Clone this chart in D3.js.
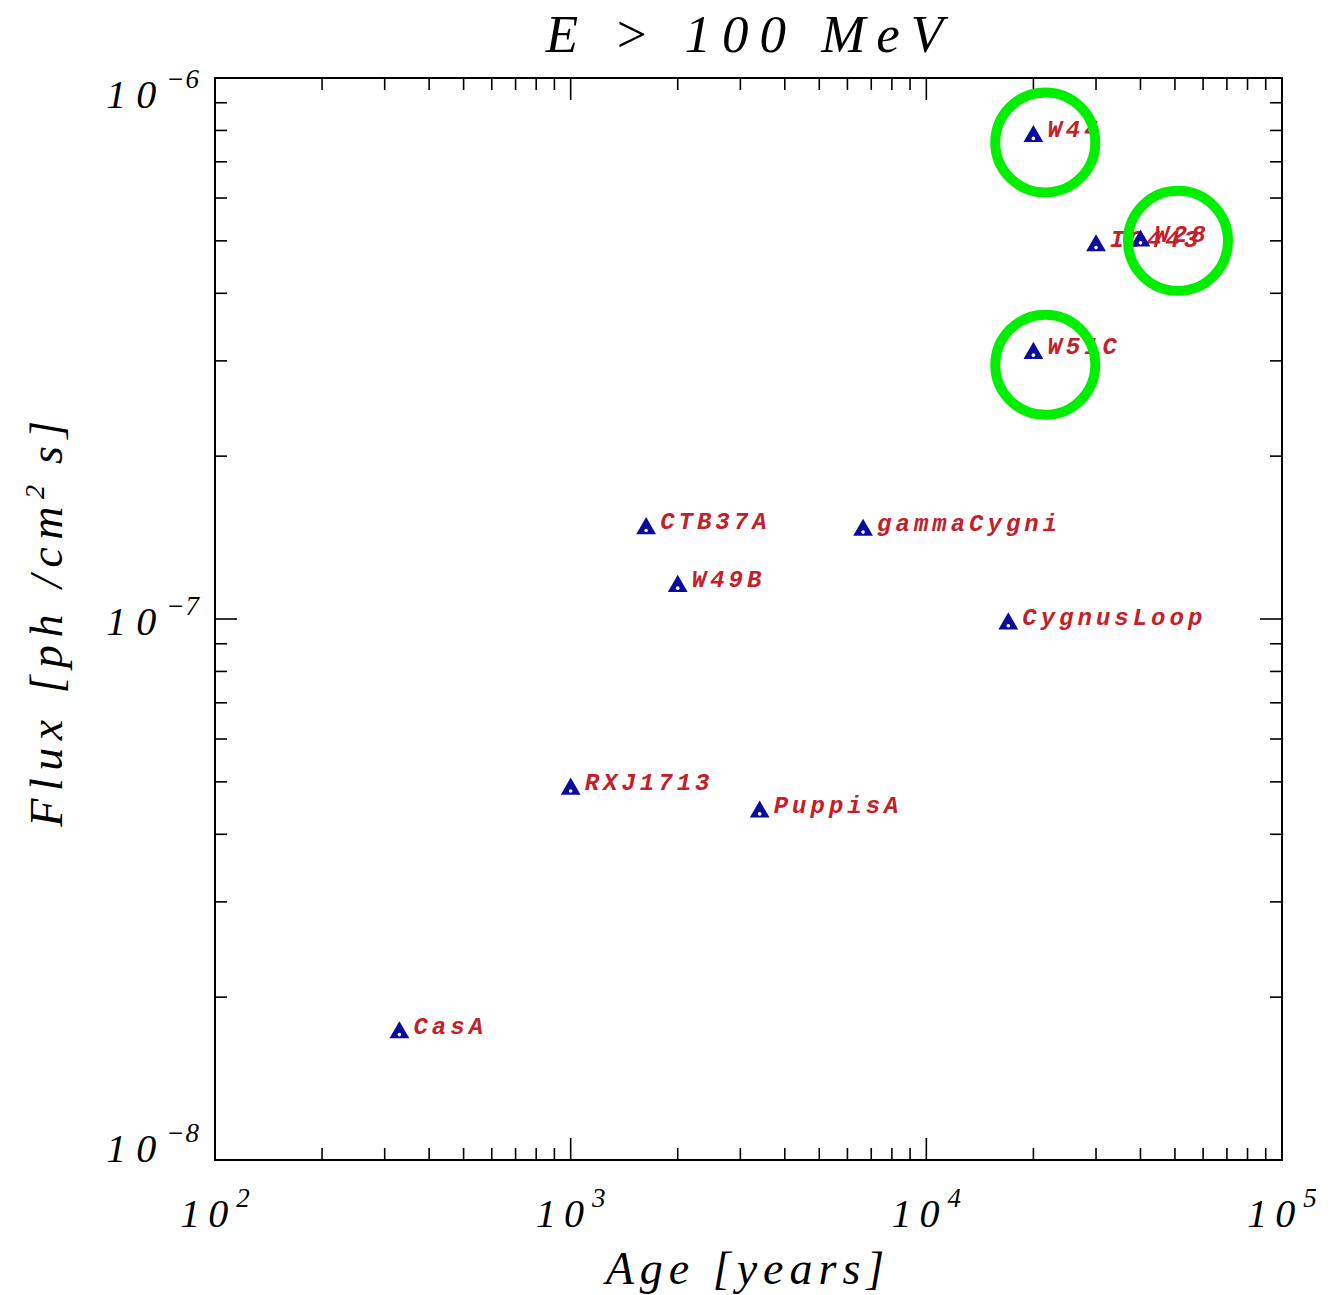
<!DOCTYPE html>
<html>
<head>
<meta charset="utf-8">
<script src="https://cdn.jsdelivr.net/npm/d3@7"></script>
<style>
  body { margin: 0; background: #fff; }
  .frame { fill: none; stroke: #000; stroke-width: 2px; }
  .tick { stroke: #000; stroke-width: 1.6px; }
  .ticklabel { font-family: "Liberation Serif", serif; font-style: italic; font-size: 40px; fill: #000; letter-spacing: 8px; }
  .axislabel { font-family: "Liberation Serif", serif; font-style: italic; font-size: 46px; fill: #000; letter-spacing: 6px; }
  .ptlabel { font-family: "Liberation Mono", monospace; font-style: italic; font-weight: bold; font-size: 24px; fill: #c4202a; letter-spacing: 4px; }
  .marker { fill: #0c0c9c; }
  .hole { fill: #fff; }
  .ring { fill: none; stroke: #00ee00; stroke-width: 10px; }
</style>
</head>
<body>
<svg id="chart" width="1338" height="1295"></svg>
<script>
// supernova remnants: age [years] vs flux E > 100 MeV [ph/cm^2 s]
const names  = ["W44", "IC443", "W28", "W51C", "CTB37A", "gammaCygni", "W49B", "CygnusLoop", "RXJ1713", "PuppisA", "CasA"];
const ages   = [20000, 30000, 40000, 20000, 1630, 6640, 2000, 17000, 1000, 3400, 330];
const fluxes = [7.8e-7, 4.9e-7, 5.0e-7, 3.1e-7, 1.47e-7, 1.46e-7, 1.15e-7, 9.8e-8, 4.85e-8, 4.4e-8, 1.72e-8];

// green rings drawn over the picture
const ringAges   = [21600, 51000, 21600];
const ringFluxes = [7.6e-7, 5.0e-7, 2.95e-7];

const xDecades = [2, 3, 4, 5];
const yDecades = [-6, -7, -8];

let svg = d3.select("#chart");
let pLeft = 215, pRight = 1282, pTop = 78, pBottom = 1160;

let xScale = d3.scaleLog().domain([1e2, 1e5]).range([pLeft, pRight]);
let yScale = d3.scaleLog().domain([1e-8, 1e-6]).range([pBottom, pTop]);

// minor/major ticks for log axes
let xTicks = xScale.ticks();
let yTicks = yScale.ticks();
let isMajor = v => Math.abs(Math.log10(v) - Math.round(Math.log10(v))) < 1e-6;

let g = svg.append("g");
xTicks.forEach(v => {
    let x = xScale(v);
    let len = isMajor(v) ? 22 : 12;
    g.append("line").attr("class", "tick").attr("x1", x).attr("x2", x).attr("y1", pBottom).attr("y2", pBottom - len);
    g.append("line").attr("class", "tick").attr("x1", x).attr("x2", x).attr("y1", pTop).attr("y2", pTop + len);
});
yTicks.forEach(v => {
    let y = yScale(v);
    let len = isMajor(v) ? 22 : 12;
    g.append("line").attr("class", "tick").attr("x1", pLeft).attr("x2", pLeft + len).attr("y1", y).attr("y2", y);
    g.append("line").attr("class", "tick").attr("x1", pRight).attr("x2", pRight - len).attr("y1", y).attr("y2", y);
});
g.append("rect").attr("class", "frame").attr("x", pLeft).attr("y", pTop)
    .attr("width", pRight - pLeft).attr("height", pBottom - pTop);

// x tick labels
xDecades.forEach(e => {
    let t = g.append("text").attr("class", "ticklabel").attr("x", xScale(Math.pow(10, e)) + 1).attr("y", 1227)
        .attr("text-anchor", "middle");
    t.append("tspan").text("10");
    t.append("tspan").attr("dy", -20).style("font-size", "27px").style("letter-spacing", "2px").text(e);
});
// y tick labels (IDL nudges them inside the frame)
let yShift = d3.scaleLinear().domain([-6, -8]).range([30, 2]);
yDecades.forEach(e => {
    let t = g.append("text").attr("class", "ticklabel").attr("x", 200).attr("y", yScale(Math.pow(10, e)) + yShift(e))
        .attr("text-anchor", "end").style("letter-spacing", "10px");
    t.append("tspan").text("10");
    t.append("tspan").attr("dy", -20).style("font-size", "27px").style("letter-spacing", "1px").text("\u2212" + (-e));
});

// titles
g.append("text").attr("class", "axislabel").attr("x", 750).attr("y", 52).attr("text-anchor", "middle")
    .style("font-size", "53px").style("letter-spacing", "11px").text("E  >  100  MeV");
g.append("text").attr("class", "axislabel").attr("x", 748).attr("y", 1284).attr("text-anchor", "middle")
    .text("Age  [years]");
let yl = g.append("text").attr("class", "axislabel").attr("text-anchor", "middle")
    .style("letter-spacing", "7.5px").attr("transform", "translate(62,620) rotate(-90)");
yl.append("tspan").text("Flux [ph /cm");
yl.append("tspan").attr("dy", -18).style("font-size", "28px").style("letter-spacing", "2px").text("2");
yl.append("tspan").attr("dy", 18).text(" s]");

// points
let pts = names.map((n, i) => ({name: n, age: ages[i], flux: fluxes[i]}));
let tri = d3.symbol().type(d3.symbolTriangle).size(170);
let pg = g.selectAll(".pt").data(pts).join("g").attr("class", "pt")
    .attr("transform", d => `translate(${xScale(d.age)},${yScale(d.flux)})`);
pg.append("text").attr("class", "ptlabel").attr("x", 14).attr("y", 1).text(d => d.name);
pg.append("path").attr("class", "marker").attr("d", tri);
pg.append("circle").attr("class", "hole").attr("cy", 2).attr("r", 1.8);

// annotation rings
g.selectAll(".ring").data(ringAges).join("circle").attr("class", "ring")
    .attr("cx", (d, i) => xScale(d))
    .attr("cy", (d, i) => yScale(ringFluxes[i]))
    .attr("r", 50);
</script>
</body>
</html>
